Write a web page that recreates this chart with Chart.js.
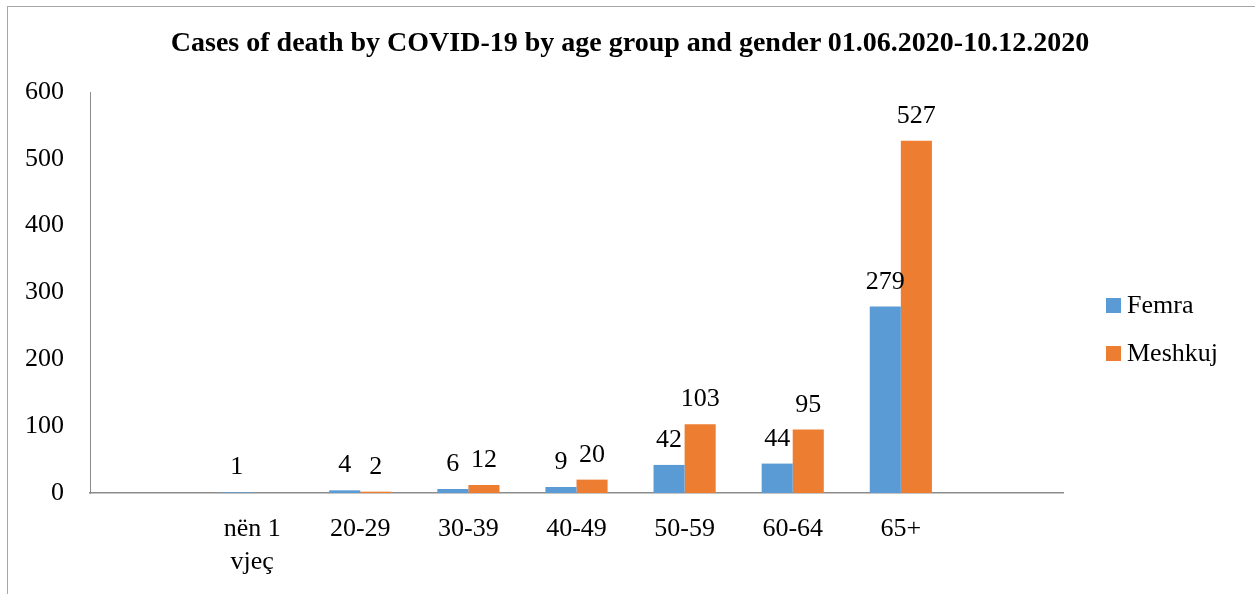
<!DOCTYPE html>
<html>
<head>
<meta charset="utf-8">
<title>COVID-19 deaths by age group</title>
<script src="https://cdn.jsdelivr.net/npm/chart.js"></script>
<style>
  body { margin: 0; background: #fff; font-family: "Liberation Serif", serif; }
  #frame { position: absolute; left: 7px; top: 6px; width: 1300px; height: 620px; border: 1px solid #a6a6a6; }
  #wrap { position: absolute; left: 0; top: 0; width: 1255px; height: 594px; }
  #title { position: absolute; left: 0; top: 26px; width: 1260px; text-align: center;
           font: bold 28px "Liberation Serif", serif; color: #000; }
  #legend { position: absolute; left: 1106px; top: 290px; }
  .item { position: relative; height: 48px; font: 26px "Liberation Serif", serif; color: #000; }
  .box { position: absolute; left: 0; top: 8px; width: 15px; height: 15px; }
  .txt { position: absolute; left: 21px; top: 0; line-height: 30px; white-space: nowrap; }
</style>
</head>
<body>
<div id="frame"></div>
<div id="wrap"><canvas id="myChart"></canvas></div>
<div id="title">Cases of death by COVID-19 by age group and gender 01.06.2020-10.12.2020</div>
<div id="legend"></div>

<script>
    const categories = ['', ['nën 1', 'vjeç'], '20-29', '30-39', '40-49', '50-59', '60-64', '65+', ''];
    const femra = [null, 1, 4, 6, 9, 42, 44, 279, null];
    const meshkuj = [null, null, 2, 12, 20, 103, 95, 527, null];
    const seriesNames = ['Femra', 'Meshkuj'];
    const seriesColors = ['#5B9BD5', '#ED7D31'];
    const yTicks = [0, 100, 200, 300, 400, 500, 600];

    const serif = '"Liberation Serif", serif';

    // value labels above each bar
    const barLabels = {
        id: 'barLabels',
        afterDatasetsDraw(chart) {
            const ctx = chart.ctx;
            ctx.save();
            ctx.font = '26px ' + serif;
            ctx.fillStyle = '#000';
            ctx.textAlign = 'center';
            ctx.textBaseline = 'alphabetic';
            chart.data.datasets.forEach((ds, i) => {
                chart.getDatasetMeta(i).data.forEach((bar, j) => {
                    const v = ds.data[j];
                    if (v === null) return;
                    ctx.fillText(String(v), bar.x, bar.y - 18);
                });
            });
            ctx.restore();
        }
    };

    const cdata = {
        labels: categories,
        datasets: [
            { label: seriesNames[0], data: femra, backgroundColor: seriesColors[0] },
            { label: seriesNames[1], data: meshkuj, backgroundColor: seriesColors[1] }
        ]
    };

    const config = {
        type: 'bar',
        data: cdata,
        plugins: [barLabels],
        options: {
            responsive: true,
            maintainAspectRatio: false,
            animation: false,
            categoryPercentage: 0.575,
            barPercentage: 1,
            layout: { padding: { top: 92, right: 192, left: 0, bottom: 0 } },
            plugins: {
                legend: { display: false },
                title: { display: false },
                tooltip: { enabled: false }
            },
            scales: {
                x: {
                    grid: { display: false, drawTicks: false },
                    border: { display: true, color: '#8c8c8c', width: 1.5 },
                    ticks: {
                        color: '#000', padding: 20, maxRotation: 0, autoSkip: false,
                        font: { family: serif, size: 26, lineHeight: 1.27 }
                    },
                    afterFit(scale) { scale.height = 101; }
                },
                y: {
                    min: 0, max: 600,
                    grid: { display: false, drawTicks: false },
                    border: { display: true, color: '#8c8c8c', width: 1 },
                    afterBuildTicks(scale) { scale.ticks = yTicks.map(v => ({ value: v })); },
                    ticks: {
                        color: '#000', padding: 26,
                        font: { family: serif, size: 26 }
                    },
                    afterFit(scale) { scale.width = 90; }
                }
            }
        }
    };

    const ctx = document.getElementById('myChart').getContext('2d');
    const myChart = new Chart(ctx, config);

    // legend
    const legend = document.getElementById('legend');
    seriesNames.forEach((name, i) => {
        const item = document.createElement('div');
        item.className = 'item';
        item.innerHTML = '<span class="box" style="background:' + seriesColors[i] + '"></span><span class="txt">' + name + '</span>';
        legend.appendChild(item);
    });
</script>
</body>
</html>
